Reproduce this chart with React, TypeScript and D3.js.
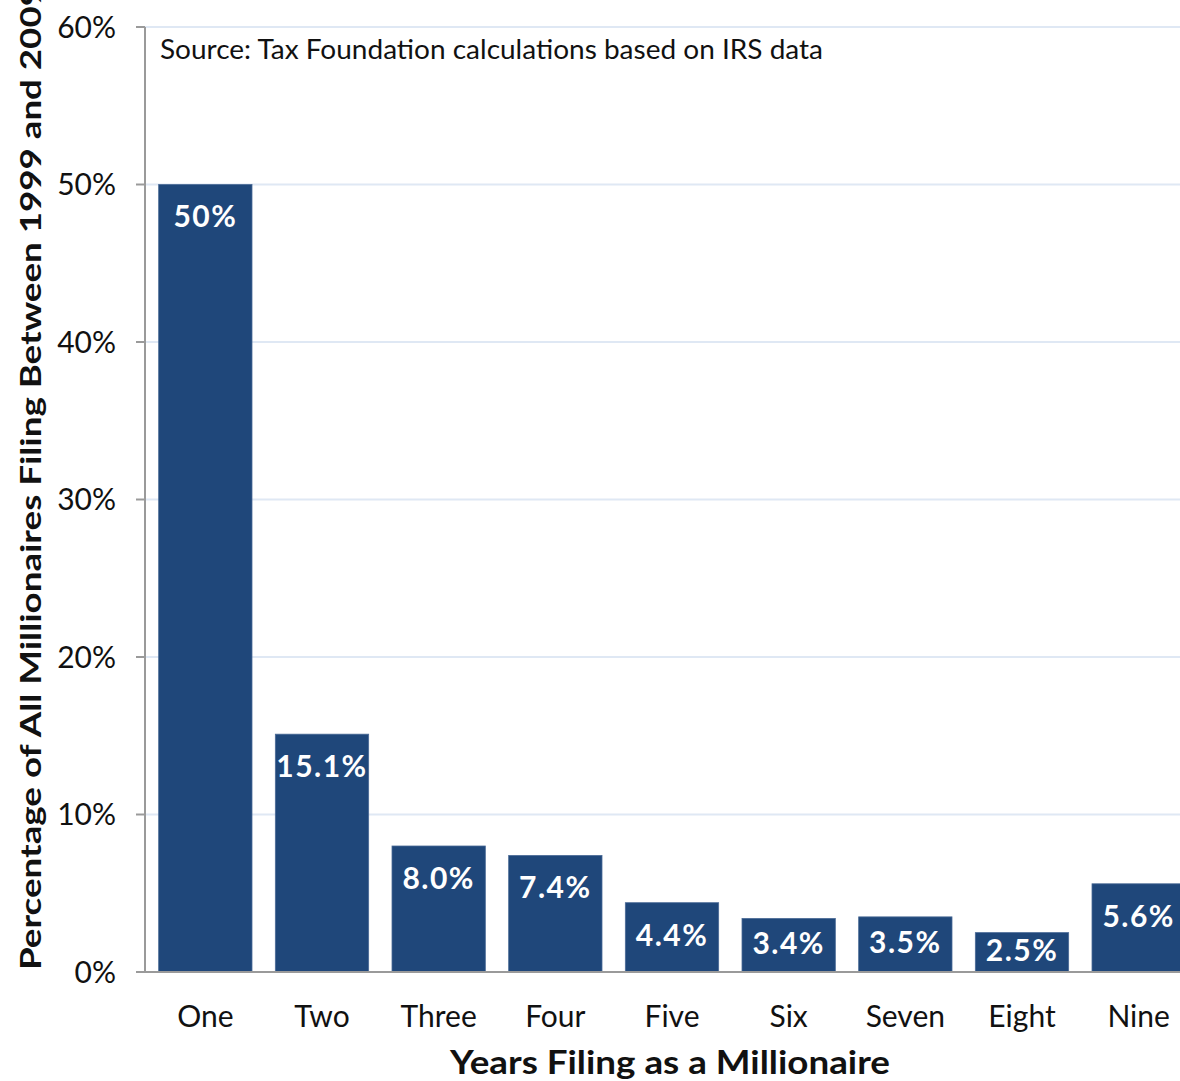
import React from "react";
import * as d3 from "d3";

const categories = ["One", "Two", "Three", "Four", "Five", "Six", "Seven", "Eight", "Nine"];
const values = [50, 15.1, 8.0, 7.4, 4.4, 3.4, 3.5, 2.5, 5.6];
const valueLabels = ["50%", "15.1%", "8.0%", "7.4%", "4.4%", "3.4%", "3.5%", "2.5%", "5.6%"];
const yTicks = [0, 10, 20, 30, 40, 50, 60];

const W = 1180;
const H = 1081;
const FONT = "Lato, 'Open Sans', sans-serif";
const BAR = "#1f477a";

export default function App() {
  const x = d3.scaleBand<string>().domain(categories).range([147, 1197]).paddingInner(0.2).paddingOuter(0.1);
  const y = d3.scaleLinear().domain([0, 60]).range([972, 27]);
  const base = y(0);

  return (
    <svg width={W} height={H} style={{ position: "absolute", left: 0, top: 0, background: "#fff" }} fontFamily={FONT}>
      {yTicks.filter((t) => t > 0).map((t) => (
        <line key={"g" + t} x1={145} x2={W} y1={y(t)} y2={y(t)} stroke="#dfe8f4" strokeWidth={2} />
      ))}
      {yTicks.map((t) => (
        <g key={"t" + t}>
          <line x1={136} x2={145} y1={y(t)} y2={y(t)} stroke="#9a9a9a" strokeWidth={2} />
          <text x={116} y={y(t)} dy="0.35em" textAnchor="end" fontSize={30} fill="#111">{t}%</text>
        </g>
      ))}
      <line x1={145} x2={145} y1={y(60)} y2={base} stroke="#9a9a9a" strokeWidth={2} />
      {categories.map((c, i) => {
        const top = y(values[i]);
        const mid = (top + base) / 2;
        const ly = Math.min(top + 32, mid - 2);
        return (
          <g key={c}>
            <rect x={x(c)} y={top} width={x.bandwidth()} height={base - top} fill={BAR} stroke="#4a6a96" strokeWidth={0.8} />
            <text x={(x(c) as number) + x.bandwidth() / 2} y={ly} dy="0.36em" textAnchor="middle" fontSize={30} fontWeight="bold" letterSpacing={1.5} fill="#fff">{valueLabels[i]}</text>
            <text x={(x(c) as number) + x.bandwidth() / 2} y={1016} dy="0.36em" textAnchor="middle" fontSize={30} fill="#111">{c}</text>
          </g>
        );
      })}
      <line x1={136} x2={W} y1={base} y2={base} stroke="#9a9a9a" strokeWidth={2} />
      <text x={160} y={50} dy="0.36em" fontSize={26} fill="#111" textLength={663} lengthAdjust="spacingAndGlyphs">Source: Tax Foundation calculations based on IRS data</text>
      <text x={450} y={1062} dy="0.36em" fontSize={32} fontWeight="bold" fill="#111" textLength={440} lengthAdjust="spacingAndGlyphs">Years Filing as a Millionaire</text>
      <text transform="translate(41,970) rotate(-90)" x={0} y={0} fontSize={29} fontWeight="bold" fill="#111" textLength={985} lengthAdjust="spacingAndGlyphs">Percentage of All Millionaires Filing Between 1999 and 2009</text>
    </svg>
  );
}
